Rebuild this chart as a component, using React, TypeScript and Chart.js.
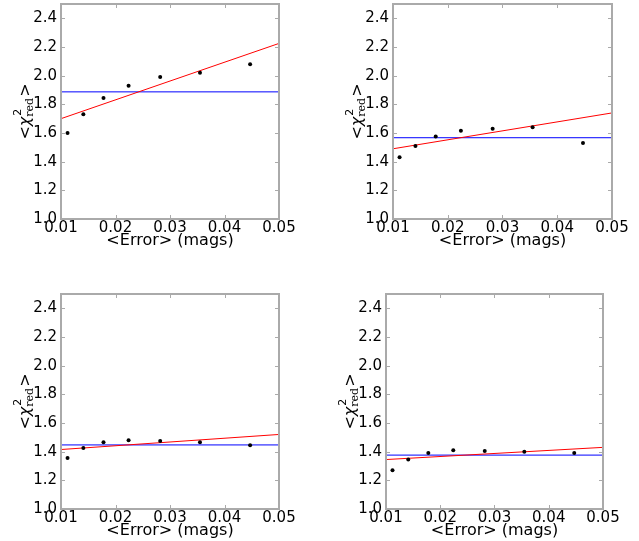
import React, { useEffect, useRef } from "react";
import { Chart, registerables } from "chart.js";

Chart.register(...registerables);

const xErr = [0.0112, 0.0141, 0.0178, 0.0224, 0.0282, 0.0355, 0.0447];
const chiA = [1.60, 1.73, 1.845, 1.93, 1.99, 2.02, 2.08];
const chiB = [1.43, 1.51, 1.575, 1.615, 1.63, 1.64, 1.53];
const chiC = [1.355, 1.425, 1.465, 1.48, 1.475, 1.465, 1.445];
const chiD = [1.27, 1.345, 1.39, 1.41, 1.405, 1.40, 1.39];
const fitX = [0.01, 0.05];
const fitA = [1.70, 2.225];
const fitB = [1.49, 1.74];
const fitC = [1.415, 1.52];
const fitD = [1.345, 1.43];
const meanA = 1.887;
const meanB = 1.567;
const meanC = 1.447;
const meanD = 1.376;
const xTicks = [0.01, 0.02, 0.03, 0.04, 0.05];
const yTicks = [1.0, 1.2, 1.4, 1.6, 1.8, 2.0, 2.2, 2.4];
const xTitle = "<Error> (mags)";

type PanelProps = {
  left: number; top: number; width: number; height: number;
  pl: number; pr: number; pt: number; pb: number;
  chi: number[]; fit: number[]; mean: number;
};

const FRAME = "#aaaaaa";

function Panel(p: PanelProps) {
  const ref = useRef<HTMLCanvasElement>(null);
  useEffect(() => {
    const canvas = ref.current!;
    const xAxisH = 31;
    const framePlugin = {
      id: "frame",
      afterDatasetsDraw(chart: any) {
        const { ctx, chartArea: a, scales } = chart;
        ctx.save();
        ctx.strokeStyle = FRAME;
        ctx.lineWidth = 1;
        const tl = 4;
        for (const v of xTicks) {
          const x = Math.round(scales.x.getPixelForValue(v)) + 0.5;
          ctx.beginPath();
          ctx.moveTo(x, a.bottom); ctx.lineTo(x, a.bottom - tl);
          ctx.moveTo(x, a.top); ctx.lineTo(x, a.top + tl);
          ctx.stroke();
        }
        for (const v of yTicks) {
          const y = Math.round(scales.y.getPixelForValue(v)) + 0.5;
          ctx.beginPath();
          ctx.moveTo(a.left, y); ctx.lineTo(a.left + tl, y);
          ctx.moveTo(a.right, y); ctx.lineTo(a.right - tl, y);
          ctx.stroke();
        }
        ctx.lineWidth = 2;
        ctx.strokeRect(a.left, a.top, a.right - a.left, a.bottom - a.top);
        ctx.restore();
      },
      afterDraw(chart: any) {
        const { ctx, chartArea: a } = chart;
        const cx = a.left - 37;
        const cy = (a.top + a.bottom) / 2;
        ctx.save();
        ctx.translate(cx, cy);
        ctx.rotate(-Math.PI / 2);
        ctx.fillStyle = "#000";
        ctx.textBaseline = "alphabetic";
        ctx.textAlign = "left";
        const mainFont = "16px 'DejaVu Sans'";
        const chiFont = "italic 16px 'DejaVu Sans'";
        const smallFont = "11px 'DejaVu Sans'";
        const subFont = "11px 'DejaVu Serif'";
        ctx.font = mainFont;
        const wl = ctx.measureText("<").width;
        const wg = ctx.measureText(">").width;
        ctx.font = chiFont;
        const wc = ctx.measureText("χ").width;
        ctx.font = subFont;
        const ws = ctx.measureText("red").width;
        const total = wl + wc + ws + wg + 1;
        let x = -total / 2;
        const base = 5.5;
        ctx.font = mainFont;
        ctx.fillText("<", x, base); x += wl;
        ctx.font = chiFont;
        ctx.fillText("χ", x, base); x += wc;
        ctx.font = smallFont;
        ctx.fillText("2", x + 1, base - 9);
        ctx.font = subFont;
        ctx.fillText("red", x, base + 3.5); x += ws + 1;
        ctx.font = mainFont;
        ctx.fillText(">", x, base);
        ctx.restore();
      },
    };
    const chart = new Chart(canvas, {
      type: "scatter",
      data: {
        datasets: [
          {
            data: xErr.map((x, i) => ({ x, y: p.chi[i] })),
            backgroundColor: "#000",
            borderColor: "#000",
            pointRadius: 2,
            pointBorderWidth: 0,
            showLine: false,
          },
          {
            data: fitX.map((x, i) => ({ x, y: p.fit[i] })),
            borderColor: "#ff0000",
            borderWidth: 1,
            pointRadius: 0,
            showLine: true,
          },
          {
            data: fitX.map((x) => ({ x, y: p.mean })),
            borderColor: "#0000ff",
            borderWidth: 1,
            pointRadius: 0,
            showLine: true,
          },
        ],
      },
      options: {
        animation: false,
        responsive: false,
        devicePixelRatio: 1,
        layout: {
          padding: {
            left: 0,
            top: p.pt,
            right: p.width - p.pr,
            bottom: p.height - p.pb - xAxisH,
          },
        },
        plugins: { legend: { display: false }, tooltip: { enabled: false } },
        scales: {
          x: {
            type: "linear",
            min: 0.01,
            max: 0.05,
            grid: { display: false, drawTicks: false, tickLength: 0 },
            border: { display: false },
            afterBuildTicks: (s: any) => { s.ticks = xTicks.map((v) => ({ value: v })); },
            ticks: {
              padding: 0,
              color: "#000",
              font: { family: "'DejaVu Sans'", size: 15 },
              maxRotation: 0,
              autoSkip: false,
              callback: (v: any) => Number(v).toFixed(2),
            },
            title: {
              display: true,
              text: xTitle,
              color: "#000",
              padding: 0,
              font: { family: "'DejaVu Sans'", size: 16 },
            },
            afterFit: (s: any) => {
              s.height = xAxisH;
              s.paddingLeft = 0;
              s.paddingRight = 0;
            },
          },
          y: {
            type: "linear",
            min: 1.0,
            max: 2.5,
            grid: { display: false, drawTicks: false, tickLength: 0 },
            border: { display: false },
            afterBuildTicks: (s: any) => { s.ticks = yTicks.map((v) => ({ value: v })); },
            ticks: {
              padding: 4,
              color: "#000",
              font: { family: "'DejaVu Sans'", size: 15 },
              autoSkip: false,
              callback: (v: any) => Number(v).toFixed(1),
            },
            afterFit: (s: any) => {
              s.width = p.pl;
              s.paddingTop = 0;
              s.paddingBottom = 0;
            },
          },
        },
      },
      plugins: [framePlugin],
    });
    return () => chart.destroy();
  }, []);
  return (
    <canvas
      ref={ref}
      width={p.width}
      height={p.height}
      style={{ position: "absolute", left: p.left, top: p.top, width: p.width, height: p.height }}
    />
  );
}

export default function App() {
  return (
    <div style={{ position: "absolute", left: 0, top: 0, width: 639, height: 541, background: "#fff" }}>
      <Panel left={0} top={0} width={320} height={270} pl={61} pr={279} pt={4} pb={219} chi={chiA} fit={fitA} mean={meanA} />
      <Panel left={320} top={0} width={319} height={270} pl={73} pr={292} pt={4} pb={219} chi={chiB} fit={fitB} mean={meanB} />
      <Panel left={0} top={270} width={320} height={271} pl={61} pr={279} pt={24} pb={239} chi={chiC} fit={fitC} mean={meanC} />
      <Panel left={320} top={270} width={319} height={271} pl={66} pr={283} pt={24} pb={239} chi={chiD} fit={fitD} mean={meanD} />
    </div>
  );
}
